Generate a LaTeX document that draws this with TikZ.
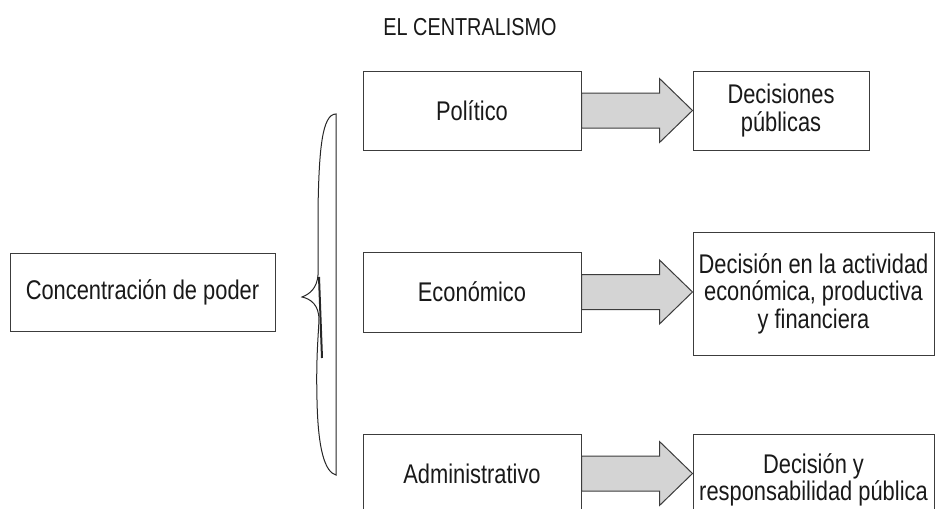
\documentclass[tikz,border=0pt]{standalone}
\usepackage{fontspec}
\setmainfont{Liberation Sans}[FakeStretch=0.81]
\usetikzlibrary{calc}
\definecolor{boxline}{HTML}{3C3C3C}
\definecolor{arrowfill}{HTML}{D4D4D4}
\tikzset{%
  box/.style={rectangle,draw=boxline,line width=1pt,fill=white,align=center,text=black!90,font=\fontsize{27}{27.5}\selectfont,inner sep=2pt},
  bigarrow/.style={draw=boxline,line width=1pt,fill=arrowfill,line join=miter},
  brace/.style={draw=black!85,line width=1pt}%
}
% block arrow from the east side of #1 to the west side of #2
\newcommand{\blockarrow}[2]{%
  \draw[bigarrow] let \p1=(#1.east), \p2=(#2.west) in
    (\x1,\y1+17.5pt) -- (\x2-33pt,\y1+17.5pt) -- (\x2-33pt,\y1+32pt) -- (\x2,\y1)
    -- (\x2-33pt,\y1-32pt) -- (\x2-33pt,\y1-17.5pt) -- (\x1,\y1-17.5pt) -- cycle;}

\begin{document}
\begin{tikzpicture}[x=1pt,y=-1pt]
      \useasboundingbox (0,0) rectangle (935,509);
      \clip (0,0) rectangle (935,509);

      \node (title) at (470,27) [text=black!90,font=\fontsize{24.5}{26}\selectfont] {EL CENTRALISMO};

      \node (conc) [box,minimum width=265pt,minimum height=78pt] at (142.5,292) {Concentración de poder};

      % brace
      \draw[brace] (336,114) .. controls (322,114) and (319,150) .. (318,210) -- (318,275)
            .. controls (317,288) and (310,294) .. (302,297)
            .. controls (311,299) and (319,305) .. (319,320)
            .. controls (318,340) and (316,360) .. (317,400)
            .. controls (318,450) and (325,472) .. (336,475) -- cycle;
      \draw[black!85,line width=2pt] (319,277) -- (322,358);

      \node (pol) [box,minimum width=218pt,minimum height=79pt] at (472,110.5) {Político};
      \node (eco) [box,minimum width=218pt,minimum height=80pt] at (472,292) {Económico};
      \node (adm) [box,minimum width=218pt,minimum height=79pt] at (472,473.5) {Administrativo};

      \node (dec_a) [box,minimum width=176pt,minimum height=79pt] at (781,110.5) {Decisiones\\públicas};
      \node (dec_b) [box,minimum width=241pt,minimum height=123pt] at (813.5,293.5) {Decisión en la actividad\\económica, productiva\\y financiera};
      \node (dec_c) [box,minimum width=241pt,minimum height=92pt] at (813.5,480) {Decisión y\\responsabilidad pública};

      \blockarrow{pol}{dec_a}
      \blockarrow{eco}{dec_b}
      \blockarrow{adm}{dec_c}
\end{tikzpicture}
\end{document}
